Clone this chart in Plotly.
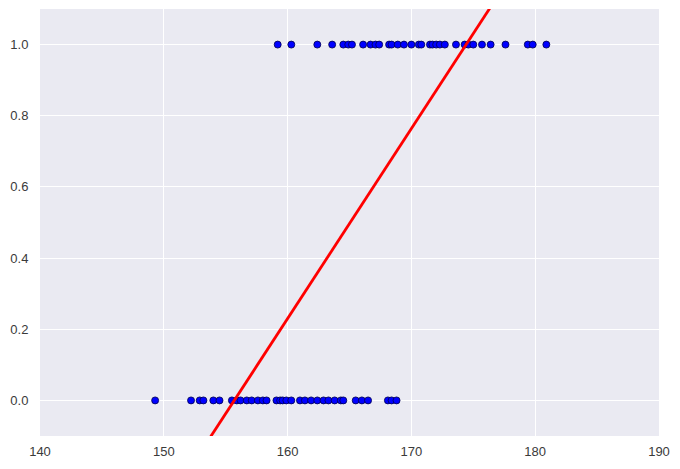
import plotly.graph_objects as go

# heights of class 0 and class 1 samples
x_class0 = [149.3, 152.2, 152.9, 153.2, 154.0, 154.5, 155.5, 155.9, 156.2, 156.7,
            157.1, 157.6, 158.0, 158.3, 159.1, 159.4, 159.6, 159.9, 160.3, 161.0,
            161.4, 161.9, 162.4, 162.9, 163.3, 163.8, 164.3, 164.5, 165.5, 166.0,
            166.5, 168.1, 168.4, 168.8]
x_class1 = [159.2, 160.3, 162.4, 163.6, 164.5, 164.9, 165.2, 166.1, 166.7, 167.1,
            167.4, 168.2, 168.4, 168.9, 169.4, 170.0, 170.6, 170.8, 171.5, 171.7,
            172.0, 172.3, 172.7, 173.6, 174.3, 174.6, 175.0, 175.7, 176.4, 177.6,
            179.4, 179.8, 180.9]

slope = 0.0534
intercept = -8.314

xs = sorted(x_class0 + x_class1)
ys = [0] * len(x_class0) + [1] * len(x_class1)
xall = x_class0 + x_class1
line_y = [intercept + slope * v for v in xs]

fig = go.Figure()
fig.add_trace(go.Scatter(
    x=xall, y=ys, mode="markers",
    marker=dict(color="#0000FF", size=7, line=dict(color="#00004d", width=0.8)),
    showlegend=False, cliponaxis=False))
fig.add_trace(go.Scatter(
    x=xs, y=line_y, mode="lines",
    line=dict(color="#FF0000", width=2.8),
    showlegend=False))

tickfont = dict(family="Liberation Sans, Arial, sans-serif", size=13, color="#3a3a3a")
fig.update_layout(
    width=664, height=457,
    margin=dict(l=32, r=13, t=1, b=29, autoexpand=False),
    paper_bgcolor="white",
    plot_bgcolor="#EAEAF2",
    font=tickfont,
    xaxis=dict(range=[140, 190], tickvals=[140, 150, 160, 170, 180, 190],
               showgrid=True, gridcolor="white", gridwidth=1, zeroline=False,
               showline=False, ticks="outside", ticklen=3, tickcolor="rgba(0,0,0,0)",
               tickfont=tickfont),
    yaxis=dict(range=[-0.1, 1.1], tickvals=[0.0, 0.2, 0.4, 0.6, 0.8, 1.0],
               tickformat=".1f",
               showgrid=True, gridcolor="white", gridwidth=1, zeroline=False,
               showline=False, ticks="outside", ticklen=8, tickcolor="rgba(0,0,0,0)",
               tickfont=tickfont),
)

fig.write_html("out.html")
